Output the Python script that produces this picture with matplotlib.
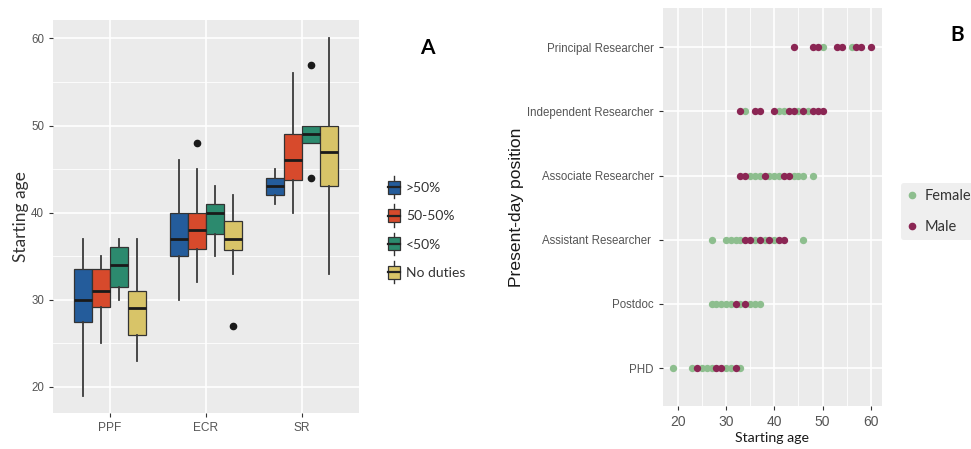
import matplotlib.pyplot as plt
from matplotlib.patches import Rectangle
from matplotlib.lines import Line2D
from matplotlib.legend_handler import HandlerBase

# ---- panel A data: box stats per group (PPF, ECR, SR) x duty level
groups = ['PPF', 'ECR', 'SR']
duties = ['>50%', '50-50%', '<50%', 'No duties']
box_colors = ['#245C9B', '#D74A2C', '#2C8A6E', '#D8C468']

whis_lo = [[19, 25, 30, 23], [30, 32, 35, 33], [41, 40, 48, 33]]
q1 = [[27.5, 29.2, 31.5, 26], [35, 35.8, 37.5, 35.7], [42, 43.7, 48, 43]]
med = [[30, 31, 34, 29], [37, 38, 40, 37], [43, 46, 49, 47]]
q3 = [[33.5, 33.5, 36, 31], [40, 40, 41, 39], [44, 49, 50, 50]]
whis_hi = [[37, 35, 37, 37], [46, 45, 43, 42], [45, 56, 50, 60]]
outliers = [[[], [], [], []], [[], [48], [], [27]], [[], [], [57, 44], []]]

# ---- panel B data: starting age by present-day position and gender
positions = ['PHD', 'Postdoc', 'Assistant Researcher ', 'Associate Researcher',
             'Independent Researcher', 'Principal Researcher']
female_ages = [
    [19, 23, 25, 26, 27, 30, 31, 33],
    [27, 28, 29, 30, 31, 33, 35, 36, 37],
    [27, 30, 31, 32, 33, 36, 38, 40, 46],
    [35, 36, 37, 39, 40, 41, 44, 45, 46, 48],
    [34, 41, 42, 45, 47],
    [50, 56],
]
male_ages = [
    [24, 28, 29, 32],
    [32, 34],
    [34, 35, 37, 39, 41, 42],
    [33, 34, 38, 42, 43],
    [33, 36, 37, 40, 43, 44, 46, 48, 49, 50],
    [44, 48, 49, 53, 54, 57, 58, 60],
]
female_color = '#8DBE8E'
male_color = '#8B2654'

panel_bg = '#EBEBEB'
tick_col = '#555555'
calib = ['Lato', 'DejaVu Sans']
arial = ['Liberation Sans', 'DejaVu Sans']


class BoxKey(HandlerBase):
    # ggplot-like boxplot legend key: box, median and short whisker stubs
    def create_artists(self, legend, orig_handle, xd, yd, width, height, fontsize, trans):
        x0 = -xd
        yc = -yd + height / 2
        hb = 0.47 * fontsize
        hw = 0.8 * fontsize
        rect = Rectangle((x0, yc - hb), width, 2 * hb,
                         facecolor=orig_handle.get_facecolor(), edgecolor='#333333',
                         lw=0.9, transform=trans)
        cx = x0 + width / 2
        mid = Line2D([x0, x0 + width], [yc, yc], color='#222222', lw=1.6, transform=trans)
        w1 = Line2D([cx, cx], [yc - hw, yc - hb], color='#333333', lw=1.0, transform=trans)
        w2 = Line2D([cx, cx], [yc + hb, yc + hw], color='#333333', lw=1.0, transform=trans)
        return [w1, w2, rect, mid]


def ggstyle(ax):
    ax.set_facecolor(panel_bg)
    for s in ax.spines.values():
        s.set_visible(False)
    ax.tick_params(length=3, width=0.8, color='#333333', labelcolor=tick_col, labelsize=8.3)
    for lab in ax.get_xticklabels() + ax.get_yticklabels():
        lab.set_family(arial)
    ax.set_axisbelow(True)


fig = plt.figure(figsize=(9.71, 4.49), dpi=100)

# ---------------- panel A
axA = fig.add_axes([0.0546, 0.0802, 0.315, 0.875])
n = len(duties)
bw = 0.75 / n
for gi, g in enumerate(groups):
    for di in range(n):
        st = dict(med=med[gi][di], q1=q1[gi][di], q3=q3[gi][di],
                  whislo=whis_lo[gi][di], whishi=whis_hi[gi][di], fliers=outliers[gi][di])
        pos = gi + 1 + (di - (n - 1) / 2) * bw
        axA.bxp([st], positions=[pos], widths=bw, patch_artist=True, showcaps=False,
                boxprops=dict(facecolor=box_colors[di], edgecolor='#333333', lw=0.9),
                medianprops=dict(color='#1A1A1A', lw=2),
                whiskerprops=dict(color='#3A3A3A', lw=1.3),
                flierprops=dict(marker='o', markerfacecolor='#1A1A1A', markeredgecolor='#1A1A1A',
                                markersize=4.5),
                manage_ticks=False)
axA.set_xlim(0.406, 3.594)
axA.set_ylim(17.0, 62.1)
axA.set_xticks(range(1, 4))
axA.set_xticklabels(groups)
axA.set_yticks([20, 30, 40, 50, 60])
axA.set_yticks([25, 35, 45, 55], minor=True)
axA.tick_params(which='minor', length=0)
axA.grid(True, which='major', color='white', lw=1.2)
axA.grid(True, which='minor', axis='y', color='white', lw=0.6)
ggstyle(axA)
axA.tick_params(axis='x', labelsize=8.6)
axA.set_ylabel('Starting age', family=calib, fontsize=12.5, color='#333333', labelpad=1.5)

handles = [Rectangle((0, 0), 1, 1, facecolor=c) for c in box_colors]
fig.legend(handles, duties, handler_map={Rectangle: BoxKey()}, loc='center left',
           bbox_to_anchor=(0.3895, 0.4866), frameon=False, prop=dict(family=calib, size=10),
           handlelength=0.9, handletextpad=0.4, labelspacing=1.17,
           labelcolor='#333333', borderpad=0.2)
fig.text(0.44, 0.893, 'A', family=calib, fontweight='bold', fontsize=15, ha='center', va='center')

# ---------------- panel B
axB = fig.add_axes([0.6828, 0.0958, 0.2255, 0.886])
for yi in range(len(positions)):
    axB.scatter(female_ages[yi], [yi + 1] * len(female_ages[yi]), s=28, color=female_color,
                lw=0, zorder=3)
    axB.scatter(male_ages[yi], [yi + 1] * len(male_ages[yi]), s=28, color=male_color,
                lw=0, zorder=3)
axB.set_xlim(16.95, 62.3)
axB.set_ylim(0.41, 6.61)
axB.set_xticks([20, 30, 40, 50, 60])
axB.set_xticks([25, 35, 45, 55], minor=True)
axB.tick_params(which='minor', length=0)
axB.set_yticks(range(1, len(positions) + 1))
axB.set_yticklabels(positions)
axB.grid(True, which='major', color='white', lw=1.2)
axB.grid(True, which='minor', axis='x', color='white', lw=0.6)
ggstyle(axB)
axB.tick_params(axis='x', labelsize=10)
axB.set_xlabel('Starting age', family=calib, fontsize=10.2, color='#1A1A1A', labelpad=2)
axB.set_ylabel('Present-day position', family=arial, fontsize=12.6, color='#1A1A1A', labelpad=2.5)

hB = [Line2D([], [], ls='', marker='o', markersize=4.5, color=c) for c in (female_color, male_color)]
fig.legend(hB, ['Female', 'Male'], loc='center left', bbox_to_anchor=(0.9215, 0.529),
           frameon=True, facecolor='#EFEFEF', edgecolor='none', framealpha=1,
           prop=dict(family=calib, size=10.5), labelcolor='#333333', handlelength=0.8,
           handletextpad=0.42, labelspacing=1.2, borderpad=0.4, borderaxespad=0.4)
fig.text(0.986, 0.922, 'B', family=calib, fontweight='bold', fontsize=15, ha='center', va='center')

fig.savefig('out.png', dpi=100)
